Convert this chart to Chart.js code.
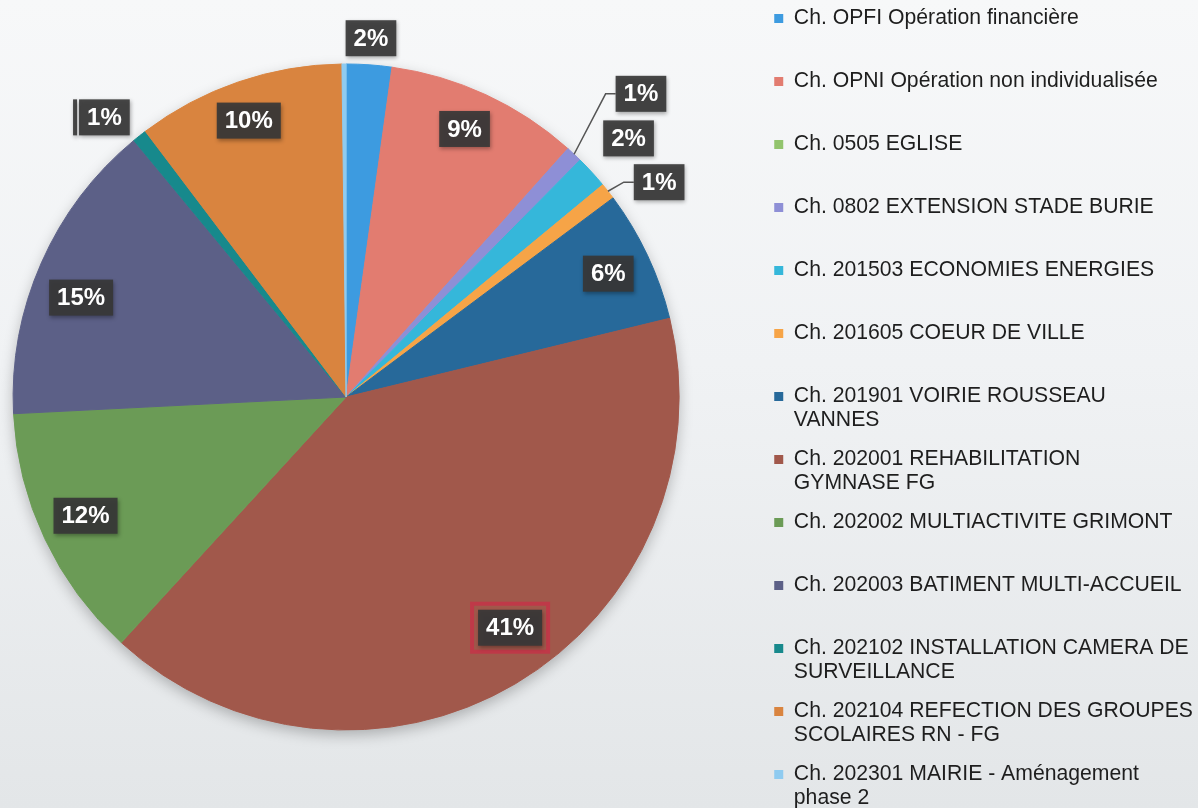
<!DOCTYPE html>
<html lang="fr">
<head>
<meta charset="utf-8">
<title>Répartition des dépenses par chapitre</title>
<script src="https://cdn.jsdelivr.net/npm/chart.js@4.4.1/dist/chart.umd.min.js"></script>
<style>
  html, body { margin: 0; padding: 0; }
  body {
    position: relative;
    width: 1198px;
    height: 808px;
    overflow: hidden;
    background: linear-gradient(180deg, #f7f8f9 0%, #f0f2f4 45%, #e3e6e8 100%);
  }
  /* the chart box runs a little past the window so the pie and legend land where the original has them */
  #wrap { position: absolute; left: -67px; top: -7px; width: 1270px; height: 836px; }
</style>
</head>
<body>
<div id="wrap"><canvas id="myChart"></canvas></div>
<script>
// "\n" marks where the legend entry wraps in the original
var categories = [
  "Ch. OPFI Opération financière",
  "Ch. OPNI Opération non individualisée",
  "Ch. 0505 EGLISE",
  "Ch. 0802 EXTENSION STADE BURIE",
  "Ch. 201503 ECONOMIES ENERGIES",
  "Ch. 201605 COEUR DE VILLE",
  "Ch. 201901 VOIRIE ROUSSEAU\nVANNES",
  "Ch. 202001 REHABILITATION\nGYMNASE FG",
  "Ch. 202002 MULTIACTIVITE GRIMONT",
  "Ch. 202003 BATIMENT MULTI-ACCUEIL",
  "Ch. 202102 INSTALLATION CAMERA DE\nSURVEILLANCE",
  "Ch. 202104 REFECTION DES GROUPES\nSCOLAIRES RN - FG",
  "Ch. 202301 MAIRIE - Aménagement\nphase 2"
];

// share of the total (%)
var shares = [2.2, 9.4, 0, 0.8, 1.6, 0.8, 6.4, 40.6, 12.4, 14.8, 0.7, 10.1, 0.2];

var sliceColors = [
  "#3d9be0",
  "#e27c70",
  "#92c46d",
  "#8e8fd6",
  "#35b7da",
  "#f6a447",
  "#27699a",
  "#a1584b",
  "#6b9b56",
  "#5c6087",
  "#17898c",
  "#d9843f",
  "#8fcbf0"
];

// where each percentage box goes: r = fraction of the radius, da = angle nudge in degrees
var labelPlacement = [
  { r: 1.08, da: 0 },
  { r: 0.88, da: -1 },
  null,
  { r: 1.27, da: 1, leader: true },
  { r: 1.15, da: 0 },
  { r: 1.14, da: 3.7, leader: true },
  { r: 0.87, da: 0 },
  { r: 0.85, da: -4.8, frame: "rgba(196, 52, 72, 0.85)" },
  { r: 0.86, da: 0.7 },
  { r: 0.85, da: -3.2 },
  { r: 1.11, da: -2.5, bar: true },
  { r: 0.88, da: -0.5 },
  null
];

var pieShadow = {
  id: "pieShadow",
  beforeDatasetsDraw(chart) {
    var arc = chart.getDatasetMeta(0).data[0];
    if (!arc) return;
    var ctx = chart.ctx;
    ctx.save();
    ctx.shadowColor = "rgba(0, 0, 0, 0.25)";
    ctx.shadowBlur = 14;
    ctx.shadowOffsetY = 5;
    ctx.fillStyle = "#ffffff";
    ctx.beginPath();
    ctx.arc(arc.x, arc.y, arc.outerRadius, 0, Math.PI * 2);
    ctx.fill();
    ctx.restore();
  }
};

var pctLabels = {
  id: "pctLabels",
  afterDatasetsDraw(chart) {
    var ctx = chart.ctx;
    var meta = chart.getDatasetMeta(0);
    var data = chart.data.datasets[0].data;
    var total = data.reduce((a, b) => a + b, 0);
    ctx.save();
    ctx.font = "bold 24px 'Liberation Sans', Arial, sans-serif";
    ctx.textAlign = "center";
    ctx.textBaseline = "middle";
    meta.data.forEach((arc, i) => {
      var place = labelPlacement[i];
      var pct = Math.round(data[i] / total * 100);
      if (!place || pct < 1) return;
      var p = arc.getProps(["x", "y", "startAngle", "endAngle", "outerRadius"], true);
      var mid = (p.startAngle + p.endAngle) / 2;
      var a = mid + place.da * Math.PI / 180;
      var cx = p.x + Math.cos(a) * p.outerRadius * place.r;
      var cy = p.y + Math.sin(a) * p.outerRadius * place.r;
      var text = pct + "%";
      var w = ctx.measureText(text).width + 16;
      var h = 36;
      var left = cx - w / 2;
      var top = cy - h / 2;

      if (place.leader) {
        ctx.strokeStyle = "#555";
        ctx.lineWidth = 1.5;
        ctx.beginPath();
        ctx.moveTo(p.x + Math.cos(mid) * p.outerRadius, p.y + Math.sin(mid) * p.outerRadius);
        ctx.lineTo(left - 10, cy);
        ctx.lineTo(left, cy);
        ctx.stroke();
      }
      if (place.frame) {
        ctx.strokeStyle = place.frame;
        ctx.lineWidth = 4;
        ctx.strokeRect(left - 6, top - 6, w + 12, h + 12);
      }
      ctx.shadowColor = "rgba(0, 0, 0, 0.35)";
      ctx.shadowBlur = 4;
      ctx.shadowOffsetX = 1;
      ctx.shadowOffsetY = 2;
      ctx.fillStyle = "rgba(55, 55, 55, 0.92)";
      ctx.fillRect(left, top, w, h);
      if (place.bar) ctx.fillRect(left - 6, top, 4, h);
      ctx.shadowColor = "transparent";
      ctx.fillStyle = "#ffffff";
      ctx.fillText(text, cx, cy + 1);
    });
    ctx.restore();
  }
};

new Chart("myChart", {
  type: "pie",
  data: {
    labels: categories,
    datasets: [
      {
        data: shares,
        backgroundColor: sliceColors,
        borderColor: sliceColors,
        borderWidth: 1,
        radius: 333
      }
    ]
  },
  options: {
    responsive: true,
    maintainAspectRatio: false,
    animation: false,
    events: [],
    plugins: {
      tooltip: { enabled: false },
      subtitle: {
        // spacer under the pie only, keeps the legend full height
        display: true,
        text: " ",
        position: "bottom",
        fullSize: false,
        font: { size: 8, lineHeight: "8px" },
        padding: { top: 10, bottom: 10 }
      },
      legend: {
        position: "right",
        align: "start",
        labels: {
          boxWidth: 9,
          boxHeight: 9,
          padding: 15,
          color: "#1e1e1e",
          font: { family: "'Liberation Sans', Arial, sans-serif", size: 21.2, lineHeight: "24px" },
          generateLabels: function (chart) {
            var ds = chart.data.datasets[0];
            return chart.data.labels.map(function (label, i) {
              var lines = label.split("\n");
              if (lines.length < 2) lines.push("");
              return {
                text: lines,
                fillStyle: ds.backgroundColor[i],
                strokeStyle: ds.backgroundColor[i],
                lineWidth: 0,
                fontColor: "#1e1e1e",
                hidden: false,
                index: i
              };
            });
          }
        }
      }
    }
  },
  plugins: [pieShadow, pctLabels]
});
</script>
</body>
</html>
